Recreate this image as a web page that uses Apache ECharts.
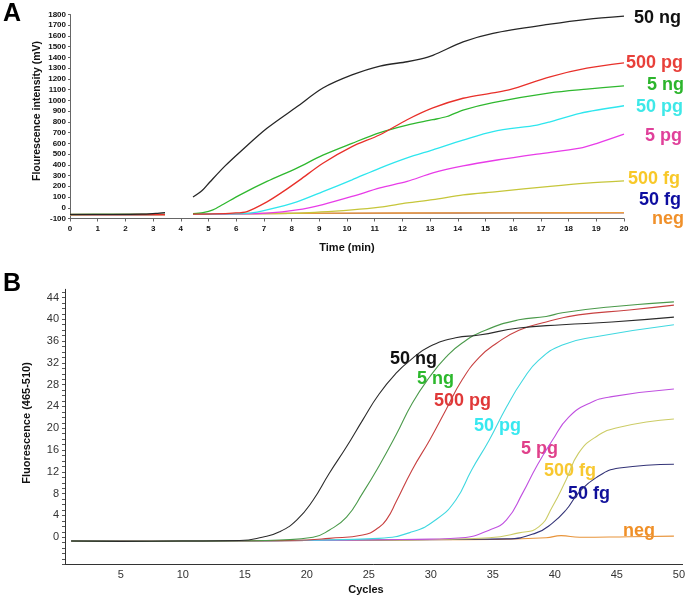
<!DOCTYPE html>
<html><head><meta charset="utf-8">
<script src="https://cdn.jsdelivr.net/npm/echarts@6/dist/echarts.min.js"></script>
<style>html,body{margin:0;padding:0;background:#fff}#c{width:688px;height:599px}</style>
</head><body><div id="c"></div>
<script>
// ---------- Panel A data: time (min) vs fluorescence (mV) ----------
const aSeries = ['50 ng','500 pg','5 ng','50 pg','5 pg','500 fg','50 fg','neg'];
const a50ng  = [[0,-62],[1,-62],[2,-61],[2.6,-60],[3.1,-52],[3.43,-45],[3.9,null],[4.44,100],[4.77,160],[5.05,240],[5.6,390],[6.14,520],[7.11,740],[8.19,940],[9.13,1115],[10.18,1237],[11.19,1320],[12.17,1360],[12.64,1385],[13.1,1420],[14.19,1545],[15.27,1625],[17.33,1710],[18.66,1755],[20,1785]];
const a500pg = [[0,-64],[1.5,-63],[3.43,-62],[3.9,null],[4.44,-60],[5.2,-57],[5.88,-50],[6.39,-35],[7.11,55],[7.69,150],[8.3,260],[9.13,415],[10.18,570],[11.19,680],[12.17,820],[13.1,930],[14.19,1020],[15.27,1070],[15.88,1100],[17.33,1220],[18.66,1300],[20,1350]];
const a5ng   = [[0,-63],[1.5,-62],[3.43,-61],[3.9,null],[4.44,-55],[4.8,-45],[5.16,-20],[5.52,30],[6.14,120],[7.11,245],[8.19,370],[9.13,490],[10.18,600],[11.19,700],[12.17,770],[13.1,820],[13.61,850],[14.19,910],[15.27,980],[17.33,1070],[18.66,1105],[20,1135]];
const a50pg  = [[0,-63],[1.5,-63],[3.43,-62],[3.9,null],[4.44,-60],[5.5,-57],[6.5,-50],[7.11,-20],[8.19,55],[9.13,150],[10.18,260],[11.19,370],[12.17,465],[13.1,540],[14.19,630],[15.27,710],[16.86,770],[17.33,800],[18.41,880],[20,950]];
const a5pg   = [[0,-64],[1.5,-63],[3.43,-63],[3.9,null],[4.44,-60],[6,-57],[7.11,-50],[8.19,-20],[9.13,30],[10.18,105],[11.19,185],[12.17,245],[13.1,325],[14.19,390],[15.42,445],[16.86,500],[18.41,555],[19.03,600],[20,685]];
const a500fg = [[0,-62],[1.5,-62],[3.43,-63],[3.9,null],[4.44,-58],[6.5,-55],[8.3,-50],[10.18,-20],[11.19,5],[12.17,45],[13.1,75],[14.19,120],[15.42,150],[17.33,200],[18.66,230],[20,250]];
const a50fg  = [[0,-66],[1.5,-65],[3.43,-64],[3.9,null],[4.44,-57],[8,-53],[12,-50],[16,-48],[20,-47]];
const aNeg   = [[0,-70],[1.5,-69],[3.43,-68],[3.9,null],[4.44,-56],[8,-52],[12,-49],[16,-47],[20,-46]];
const aXTicks = [0,20];          // axis range (min)
const aYTicks = [-100,1800];     // axis range (mV)

// ---------- Panel B data: cycles vs fluorescence (465-510) ----------
const bSeries = ['50 ng','5 ng','500 pg','50 pg','5 pg','500 fg','50 fg','neg'];
const b50ng  = [[1,-0.7],[5,-0.75],[10,-0.7],[14.6,-0.6],[16.4,0],[17.8,1],[19.2,3.2],[20.5,6.8],[21.8,11.7],[23.2,16.6],[24.5,21.5],[25.8,26.2],[27.2,30.1],[28.4,32.6],[29.9,35],[32,36.6],[33.9,37.1],[37.1,38.4],[40.6,39],[44.6,39.5],[49.6,40.4]];
const b5ng   = [[1,-0.7],[5,-0.75],[10,-0.7],[15,-0.65],[17.8,-0.5],[20.5,0],[21.8,1.3],[23.2,3.7],[24.5,8.1],[25.8,13],[27.2,18.8],[28.5,24.6],[29.9,29.4],[31.2,33],[32.5,35.6],[34.4,38],[37.1,39.9],[39.3,40.5],[40.6,41.2],[44.6,42.3],[49.6,43.2]];
const b500pg = [[1,-0.7],[5,-0.75],[10,-0.7],[15,-0.65],[20,-0.5],[21.8,-0.2],[24.5,0.4],[25.8,1.8],[26.5,3.5],[27.2,6.5],[28.5,12.4],[29.9,17.8],[31.2,23.3],[32.5,28.8],[33.9,33],[35.3,35.6],[37.1,38],[39.3,39.5],[41.9,40.8],[46,41.7],[49.6,42.6]];
const b50pg  = [[1,-0.7],[5,-0.75],[10,-0.7],[15,-0.65],[20,-0.55],[25.8,-0.2],[28.5,1.0],[30.4,3.2],[32,6.8],[33.3,12.4],[34.7,17.8],[36.1,23.9],[37.4,28.8],[38.7,32.5],[40.6,35.3],[43.3,36.8],[49.6,39]];
const b5pg   = [[1,-0.7],[5,-0.75],[10,-0.7],[15,-0.65],[20,-0.6],[26,-0.45],[30,-0.35],[32.5,-0.1],[34.7,1.3],[36.1,3.2],[37.4,8.1],[38.5,12.9],[39.8,17.8],[41.1,22],[42.8,24.6],[44.6,25.8],[49.6,27.2]];
const b500fg = [[1,-0.7],[5,-0.75],[10,-0.7],[15,-0.65],[20,-0.6],[26,-0.5],[30,-0.4],[34.7,-0.1],[37.1,0.8],[38.7,1.9],[39.8,5.6],[40.9,10.5],[41.9,15.4],[43.3,18.4],[45.2,20.2],[49.6,21.7]];
const b50fg  = [[1,-0.7],[5,-0.75],[10,-0.7],[15,-0.65],[20,-0.6],[26,-0.5],[32,-0.4],[36.1,-0.3],[38.5,0.8],[39.8,2.6],[40.9,5],[41.9,8.1],[43.3,10.9],[45.2,12.7],[49.6,13.4]];
const bNeg   = [[1,-0.7],[10,-0.7],[20,-0.6],[30,-0.45],[35,-0.4],[39.3,-0.1],[40.5,0.3],[42,0],[46,0.1],[49.6,0.2]];
const bXLabels = [5,10,15,20,25,30,35,40,45,50];
const bYLabelStep = 4;

const aData = [a50ng,a500pg,a5ng,a50pg,a5pg,a500fg,a50fg,aNeg];
const aColors = ['#262626','#e8302a','#2fb82f','#2ee6ee','#e83ce8','#c6c63a','#8a5a70','#f0a040'];
const aZ = [10,9,8,7,6,5,3,4];
const bData = [b50ng,b5ng,b500pg,b50pg,b5pg,b500fg,b50fg,bNeg];
const bColors = ['#2b2b2b','#4b9a4b','#c84040','#40d8e0','#c050e0','#cccc66','#333377','#e8943a'];

// label styling (annotations next to curves)
const aLabelColors = ['#111','#e8403a','#2cb52c','#3ee8e8','#e0409a','#f8c828','#0d0da0','#f0902a'];
const aLabelPos = [[634,18],[626,63],[647,85],[636,107],[645,136],[628,179],[639,200],[652,219]];
const bLabelColors = ['#111','#2cb82c','#e03838','#38e8f0','#e0408a','#f8c830','#10109a','#f09028'];
const bLabelPos = [[390,359],[417,379],[434,401],[474,426],[521,449],[544,471],[568,494],[623,531]];

const FONT = '"Liberation Sans", Arial, sans-serif';
const series = [];
aData.forEach((d,i)=>series.push({name:'A '+aSeries[i],type:'line',xAxisIndex:0,yAxisIndex:0,data:d,smooth:0.3,showSymbol:false,connectNulls:false,lineStyle:{color:aColors[i],width:1.3},z:aZ[i],silent:true,animation:false}));
bData.forEach((d,i)=>series.push({name:'B '+bSeries[i],type:'line',xAxisIndex:1,yAxisIndex:1,data:d,smooth:0.5,showSymbol:false,lineStyle:{color:bColors[i],width:1.1},z:10-i,silent:true,animation:false}));

const graphic = [
  {type:'text',x:3,y:2,style:{text:'A',font:'bold 25px '+FONT,fill:'#000'}},
  {type:'text',x:3,y:272,style:{text:'B',font:'bold 25px '+FONT,fill:'#000'}},
  {type:'text',x:37,y:111,rotation:Math.PI/2,style:{text:'Flourescence intensity (mV)',font:'bold 10.5px '+FONT,fill:'#111',align:'center',verticalAlign:'middle'}},
  {type:'text',x:347,y:248,style:{text:'Time (min)',font:'bold 11px '+FONT,fill:'#111',align:'center',verticalAlign:'middle'}},
  {type:'text',x:27,y:423,rotation:Math.PI/2,style:{text:'Fluorescence (465-510)',font:'bold 11px '+FONT,fill:'#111',align:'center',verticalAlign:'middle'}},
  {type:'text',x:366,y:590,style:{text:'Cycles',font:'bold 11px '+FONT,fill:'#111',align:'center',verticalAlign:'middle'}}
];
aSeries.forEach((t,i)=>graphic.push({type:'text',x:aLabelPos[i][0],y:aLabelPos[i][1],style:{text:t,font:'bold 18px '+FONT,fill:aLabelColors[i],align:'left',verticalAlign:'middle'}}));
bSeries.forEach((t,i)=>graphic.push({type:'text',x:bLabelPos[i][0],y:bLabelPos[i][1],style:{text:t,font:'bold 18px '+FONT,fill:bLabelColors[i],align:'left',verticalAlign:'middle'}}));

const chart = echarts.init(document.getElementById('c'),null,{renderer:'canvas'});
chart.setOption({
  backgroundColor:'#fff',
  animation:false,
  grid:[
    {left:70,top:14.5,width:554,height:204},
    {left:65,top:289.3,width:618.7,height:275.2}
  ],
  xAxis:[
    {type:'value',gridIndex:0,min:aXTicks[0],max:aXTicks[1],interval:1,
     axisLine:{show:true,onZero:false,lineStyle:{color:'#666',width:1}},
     axisTick:{show:true,length:3,lineStyle:{color:'#666'}},
     axisLabel:{fontSize:8,fontWeight:'bold',color:'#111',fontFamily:FONT,margin:6,formatter:v=>String(v)},
     splitLine:{show:false}},
    {type:'value',gridIndex:1,min:0.5,max:50.3,
     axisLine:{show:true,onZero:false,lineStyle:{color:'#333',width:1}},
     axisTick:{show:false},
     axisLabel:{customValues:bXLabels,fontSize:11,color:'#333',fontFamily:FONT,margin:5},
     splitLine:{show:false}}
  ],
  yAxis:[
    {type:'value',gridIndex:0,min:aYTicks[0],max:aYTicks[1],interval:100,
     axisLine:{show:true,onZero:false,lineStyle:{color:'#666',width:1}},
     axisTick:{show:true,length:2,lineStyle:{color:'#666'}},
     axisLabel:{fontSize:8,fontWeight:'bold',color:'#111',fontFamily:FONT,margin:4,formatter:v=>String(v)},
     splitLine:{show:false}},
    {type:'value',gridIndex:1,min:-5,max:45.5,interval:1,
     axisLine:{show:true,onZero:false,lineStyle:{color:'#333',width:1}},
     axisTick:{show:true,length:3,lineStyle:{color:'#555'}},
     axisLabel:{interval:0,showMaxLabel:false,fontSize:11,color:'#333',fontFamily:FONT,margin:6,
       formatter:v=>(v>=0 && v<=44 && Math.round(v)%bYLabelStep===0)?String(Math.round(v)):''},
     splitLine:{show:false}}
  ],
  series:series,
  graphic:graphic
});
</script></body></html>
